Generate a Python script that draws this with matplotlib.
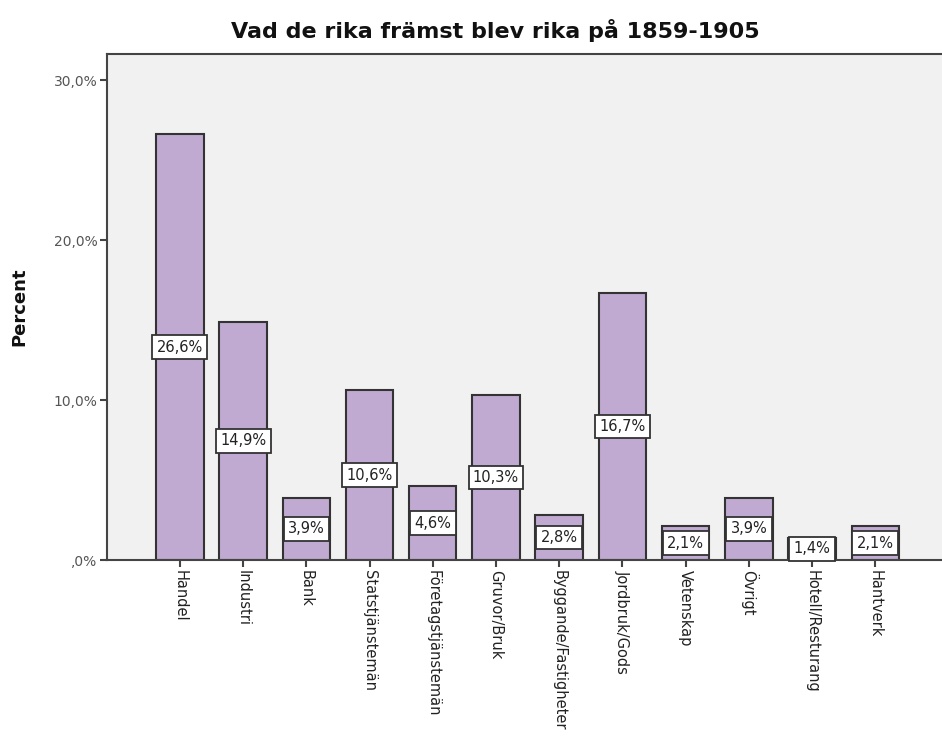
# Vad de rika främst blev rika på 1859-1905 -- SPSS style bar chart
import matplotlib
matplotlib.use('Agg')
import matplotlib.pyplot as plt
import numpy as np

# data
categories = ['Handel', 'Industri', 'Bank', 'Statstjänstemän', 'Företagstjänstemän',
              'Gruvor/Bruk', 'Byggande/Fastigheter', 'Jordbruk/Gods', 'Vetenskap',
              'Övrigt', 'Hotell/Resturang', 'Hantverk']
percent = [26.6, 14.9, 3.9, 10.6, 4.6, 10.3, 2.8, 16.7, 2.1, 3.9, 1.4, 2.1]
y_ticks = [0, 10, 20, 30]
y_tick_labels = [',0%', '10,0%', '20,0%', '30,0%']

fig = plt.figure(figsize=(9.42, 7.51), dpi=100)
ax = fig.add_axes([107/942, 1 - 560/751, 841/942, 506/751])
ax.set_facecolor('#f1f1f1')

x = np.arange(len(categories))
ax.bar(x, percent, width=0.75, color='#c1aad2', edgecolor='#333333', linewidth=1.5, zorder=2)

# value labels in boxes at half height
for xi, v in zip(x, percent):
    ax.text(xi, v / 2, f'{v:.1f}%'.replace('.', ','), ha='center', va='center',
            fontsize=10.5, color='#222222', zorder=3,
            bbox=dict(boxstyle='square,pad=0.3', facecolor='white', edgecolor='#333333', linewidth=1.3))

ax.set_xlim(-1.153, 12.15)
ax.set_ylim(0, 31.625)
ax.set_xticks(x)
ax.set_xticklabels(categories, rotation=-90, fontsize=10.5, color='#222222', va='top', ha='center')
ax.set_yticks(y_ticks)
ax.set_yticklabels(y_tick_labels, fontsize=10, color='#555555')
ax.tick_params(axis='both', direction='out', length=5, width=1.5, color='#444444', pad=2)

for side in ['left', 'top', 'bottom']:
    ax.spines[side].set_color('#444444')
    ax.spines[side].set_linewidth(1.5)
ax.spines['right'].set_visible(False)

ax.set_ylabel('Percent', fontsize=13, fontweight='bold', color='#111111', labelpad=18)
fig.text(0.526, 1 - 31/751, 'Vad de rika främst blev rika på 1859-1905', ha='center', va='center',
         fontsize=16, fontweight='bold', color='#111111')

fig.savefig('out.png', dpi=100)
